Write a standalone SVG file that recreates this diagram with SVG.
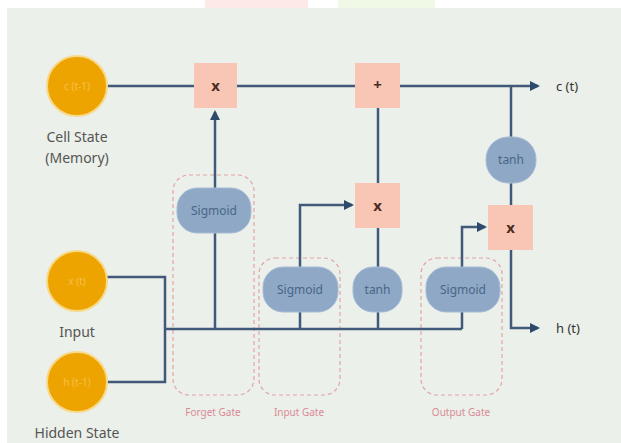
<svg xmlns="http://www.w3.org/2000/svg" width="621" height="443" viewBox="0 0 621 443">
<defs>
<marker id="arr" viewBox="0 0 10 10" refX="8" refY="5" markerWidth="4" markerHeight="4" orient="auto">
<path d="M0,0 L10,5 L0,10 z" fill="#2e4a6b"/>
</marker>
</defs>
<style>
.bg{fill:#ebf0ea}
.ln{fill:none;stroke:#41597a;stroke-width:2.5}
.src{fill:#eea400;stroke:#f7d98a;stroke-width:2}
.srct{font-family:"Noto Sans","Open Sans",sans-serif;font-size:10px;fill:#f5c04a;text-anchor:middle}
.lbl{font-family:"Noto Sans","Open Sans",sans-serif;font-size:14px;fill:#555555;text-anchor:middle}
.op{fill:#f9c6b5}
.opt{font-family:"Noto Sans","Open Sans",sans-serif;font-size:15px;font-weight:bold;fill:#4a2e22;text-anchor:middle}
.act{fill:#8ea8c6;stroke:#a6bcd6;stroke-width:1}
.actt{font-family:"Noto Sans","Open Sans",sans-serif;font-size:12px;fill:#4a6686;text-anchor:middle}
.gate{fill:none;stroke:#e3a4a4;stroke-width:1.2;stroke-dasharray:4 3}
.gatet{font-family:"Noto Sans","Open Sans",sans-serif;font-size:10px;fill:#da8a96;text-anchor:middle}
.out{font-family:"Noto Sans","Open Sans",sans-serif;font-size:13px;fill:#333;text-anchor:start}
</style>
<rect x="0" y="0" width="621" height="443" fill="#ffffff"/>
<rect x="205" y="0" width="103" height="8" fill="#fde9e7"/>
<rect x="338" y="0" width="97" height="8" fill="#f0f8e6"/>
<rect class="bg" x="7" y="8" width="614" height="435"/>

<g id="gates">
<rect class="gate" x="173" y="175" width="81" height="220" rx="16"/>
<text class="gatet" x="213" y="416">Forget Gate</text>
<rect class="gate" x="259" y="258" width="81" height="137" rx="16"/>
<text class="gatet" x="299" y="416">Input Gate</text>
<rect class="gate" x="421" y="258" width="81" height="137" rx="16"/>
<text class="gatet" x="461" y="416">Output Gate</text>
</g>

<g id="connectors">
<path class="ln" d="M107,86 H538" marker-end="url(#arr)"/>
<path class="ln" d="M107,277 H165 V382 H107"/>
<path class="ln" d="M165,329 H462"/>
<path class="ln" d="M215,329 V112" marker-end="url(#arr)"/>
<path class="ln" d="M300,329 V205 H352" marker-end="url(#arr)"/>
<path class="ln" d="M378,329 V228"/>
<path class="ln" d="M378,108 V183"/>
<path class="ln" d="M462,329 V227 H485" marker-end="url(#arr)"/>
<path class="ln" d="M511,86 V205"/>
<path class="ln" d="M511,250 V328 H538" marker-end="url(#arr)"/>
</g>

<g id="cell_prev">
<circle class="src" cx="77" cy="86" r="30"/>
<text class="srct" x="77" y="90">c (t-1)</text>
<text class="lbl" x="77" y="142">Cell State</text>
<text class="lbl" x="77" y="163">(Memory)</text>
</g>
<g id="input">
<circle class="src" cx="77" cy="281" r="30"/>
<text class="srct" x="77" y="285">x (t)</text>
<text class="lbl" x="77" y="337">Input</text>
</g>
<g id="hidden_prev">
<circle class="src" cx="77" cy="382" r="30"/>
<text class="srct" x="77" y="386">h (t-1)</text>
<text class="lbl" x="77" y="438">Hidden State</text>
</g>

<g id="forget_mul">
<rect class="op" x="194" y="63" width="43" height="45"/>
<text class="opt" x="215.5" y="91">x</text>
</g>
<g id="add">
<rect class="op" x="355" y="63" width="45" height="45"/>
<text class="opt" x="377.5" y="90">+</text>
</g>
<g id="input_mul">
<rect class="op" x="355" y="183" width="45" height="45"/>
<text class="opt" x="377.5" y="211">x</text>
</g>
<g id="output_mul">
<rect class="op" x="488" y="205" width="45" height="45"/>
<text class="opt" x="510.5" y="233">x</text>
</g>

<g id="forget_sigmoid">
<rect class="act" x="177" y="188" width="74" height="45" rx="20"/>
<text class="actt" x="214" y="215">Sigmoid</text>
</g>
<g id="input_sigmoid">
<rect class="act" x="263" y="267" width="75" height="45" rx="20"/>
<text class="actt" x="300" y="294">Sigmoid</text>
</g>
<g id="input_tanh">
<rect class="act" x="353" y="267" width="49" height="45" rx="20"/>
<text class="actt" x="377.5" y="294">tanh</text>
</g>
<g id="output_sigmoid">
<rect class="act" x="426" y="267" width="74" height="45" rx="20"/>
<text class="actt" x="463" y="294">Sigmoid</text>
</g>
<g id="output_tanh">
<rect class="act" x="486" y="137" width="50" height="46" rx="22"/>
<text class="actt" x="511" y="164">tanh</text>
</g>

<g id="outputs">
<text class="out" x="556" y="91">c (t)</text>
<text class="out" x="556" y="333">h (t)</text>
</g>
</svg>
